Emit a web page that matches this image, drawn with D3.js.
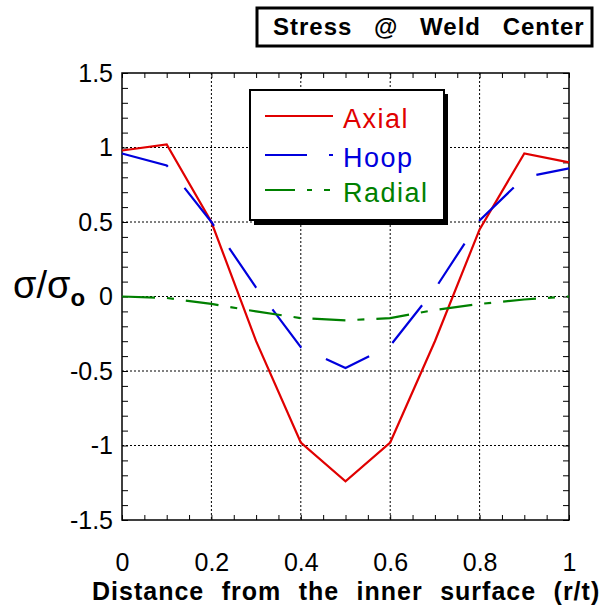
<!DOCTYPE html>
<html><head><meta charset="utf-8">
<script src="https://cdn.jsdelivr.net/npm/d3@7"></script>
<style>body{margin:0;background:#fff}svg{display:block}text{font-family:"Liberation Sans",Arial,sans-serif}</style>
</head><body>
<script>
const xs = [0, 0.1, 0.2, 0.3, 0.4, 0.5, 0.6, 0.7, 0.8, 0.9, 1.0];
const axial = [0.98, 1.02, 0.50, -0.30, -0.98, -1.24, -0.98, -0.30, 0.45, 0.96, 0.90];
const hoop = [0.96, 0.88, 0.50, 0.06, -0.34, -0.48, -0.33, 0.05, 0.51, 0.80, 0.86];
const radial = [0.0, -0.01, -0.05, -0.10, -0.145, -0.16, -0.145, -0.09, -0.05, -0.02, 0.0];
const xTicks = [0, 0.2, 0.4, 0.6, 0.8, 1];
const yTicks = [-1.5, -1, -0.5, 0, 0.5, 1, 1.5];
const seriesNames = ["Axial", "Hoop", "Radial"];
const colors = ["#e00000", "#0000dd", "#008000"];

const W = 607, H = 607;
const svg = d3.select("body").append("svg").attr("width", W).attr("height", H);
const x = d3.scaleLinear().domain([0, 1]).range([122, 569]);
const y = d3.scaleLinear().domain([-1.5, 1.5]).range([520, 73]);
const fmt = d => d3.format("~g")(d).replace("\u2212", "-");

// grid
const g = svg.append("g");
g.selectAll(".vg").data(xTicks.slice(1, -1)).enter().append("line")
  .attr("x1", d => x(d)).attr("x2", d => x(d)).attr("y1", y(1.5)).attr("y2", y(-1.5))
  .attr("stroke", "#000").attr("stroke-width", 1).attr("stroke-dasharray", "2,2");
g.selectAll(".hg").data(yTicks.slice(1, -1)).enter().append("line")
  .attr("y1", d => y(d)).attr("y2", d => y(d)).attr("x1", x(0)).attr("x2", x(1))
  .attr("stroke", "#000").attr("stroke-width", 1).attr("stroke-dasharray", "2,2");

// minor ticks
const xMinor = d3.range(0, 1.0001, 0.05);
const yMinor = d3.range(-1.5, 1.5001, 0.1);
svg.append("g").attr("transform", `translate(0,${y(-1.5)})`)
  .call(d3.axisBottom(x).tickValues(xMinor).tickSizeInner(-5).tickSizeOuter(0).tickFormat(""))
  .call(a => a.select(".domain").remove());
svg.append("g").attr("transform", `translate(0,${y(1.5)})`)
  .call(d3.axisTop(x).tickValues(xMinor).tickSizeInner(-5).tickSizeOuter(0).tickFormat(""))
  .call(a => a.select(".domain").remove());
svg.append("g").attr("transform", `translate(${x(0)},0)`)
  .call(d3.axisLeft(y).tickValues(yMinor).tickSizeInner(-6).tickSizeOuter(0).tickFormat(""))
  .call(a => a.select(".domain").remove());
svg.append("g").attr("transform", `translate(${x(1)},0)`)
  .call(d3.axisRight(y).tickValues(yMinor).tickSizeInner(-6).tickSizeOuter(0).tickFormat(""))
  .call(a => a.select(".domain").remove());

// tick labels
const xa = svg.append("g").attr("transform", `translate(0,${y(-1.5)})`)
  .call(d3.axisBottom(x).tickValues(xTicks).tickSize(0).tickPadding(33).tickFormat(fmt));
xa.select(".domain").remove();
xa.selectAll("text").attr("font-size", 25).attr("font-family", "Liberation Sans, Arial, sans-serif").attr("fill", "#000");
const ya = svg.append("g").attr("transform", `translate(${x(0)},0)`)
  .call(d3.axisLeft(y).tickValues(yTicks).tickSize(0).tickPadding(9).tickFormat(fmt));
ya.select(".domain").remove();
ya.selectAll("text").attr("font-size", 25).attr("font-family", "Liberation Sans, Arial, sans-serif").attr("fill", "#000");

// frame
svg.append("rect").attr("x", x(0)).attr("y", y(1.5)).attr("width", x(1) - x(0)).attr("height", y(-1.5) - y(1.5))
  .attr("fill", "none").attr("stroke", "#000").attr("stroke-width", 1.5);

// lines
const data = [axial, hoop, radial];
const dashes = [null, "48,27", "33,12,7,12"];
const line = d3.line().x((d, i) => x(xs[i])).y(d => y(d));
data.forEach((s, k) => {
  svg.append("path").datum(s).attr("d", line).attr("fill", "none")
    .attr("stroke", colors[k]).attr("stroke-width", 2.2)
    .attr("stroke-dasharray", dashes[k]);
});

// legend
svg.append("rect").attr("x", 254).attr("y", 94).attr("width", 194).attr("height", 131).attr("fill", "#000");
svg.append("rect").attr("x", 250).attr("y", 90).attr("width", 194).attr("height", 130)
  .attr("fill", "#fff").attr("stroke", "#000").attr("stroke-width", 2);
const legY = [116, 155, 190];
const legDash = [null, "42,22,6,20", "30,12,5,12,6,20"];
seriesNames.forEach((n, k) => {
  svg.append("line").attr("x1", 265).attr("x2", 333).attr("y1", legY[k]).attr("y2", legY[k])
    .attr("stroke", colors[k]).attr("stroke-width", 2.2).attr("stroke-dasharray", legDash[k]);
  svg.append("text").attr("x", 343).attr("y", legY[k] + 12).attr("font-size", 27)
    .attr("letter-spacing", 1.5).attr("fill", colors[k]).text(n);
});

// title box
svg.append("rect").attr("x", 257).attr("y", 8).attr("width", 335).attr("height", 38)
  .attr("fill", "#fff").attr("stroke", "#000").attr("stroke-width", 3);
svg.append("text").attr("x", 273).attr("y", 35).attr("font-size", 24).attr("font-weight", "bold")
  .attr("letter-spacing", 1).attr("word-spacing", 14).text("Stress @ Weld Center");

// axis labels
svg.append("text").attr("x", 92).attr("y", 600).attr("font-size", 25).attr("font-weight", "bold")
  .attr("letter-spacing", 1).attr("word-spacing", 9.5).text("Distance from the inner surface (r/t)");
const yl = svg.append("text").attr("x", 13).attr("y", 298).attr("font-size", 38);
yl.append("tspan").text("σ/σ");
yl.append("tspan").attr("font-size", 24).attr("font-weight", "bold").attr("dy", 8).text("o");
</script>
</body></html>
